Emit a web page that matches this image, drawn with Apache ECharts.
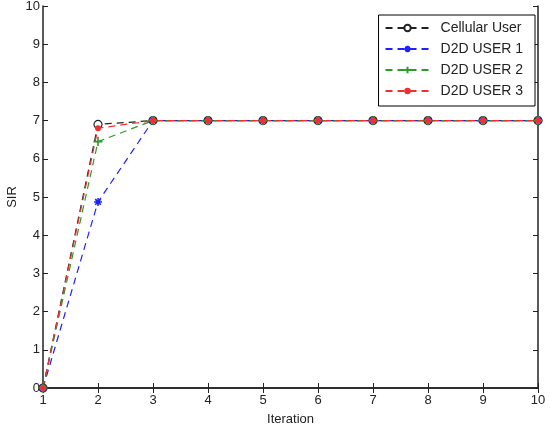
<!DOCTYPE html>
<html>
<head>
<meta charset="utf-8">
<script src="https://cdn.jsdelivr.net/npm/echarts@6/dist/echarts.min.js"></script>
<style>
html,body{margin:0;padding:0;background:#fff;}
#chart{width:550px;height:429px;}
</style>
</head>
<body>
<div id="chart"></div>
<script>
var iterations = [1, 2, 3, 4, 5, 6, 7, 8, 9, 10];
var cellular = [0, 6.9, 7, 7, 7, 7, 7, 7, 7, 7];
var user1 = [0, 4.87, 7, 7, 7, 7, 7, 7, 7, 7];
var user2 = [0, 6.45, 7, 7, 7, 7, 7, 7, 7, 7];
var user3 = [0, 6.8, 7, 7, 7, 7, 7, 7, 7, 7];
var names = ['Cellular User', 'D2D USER 1', 'D2D USER 2', 'D2D USER 3'];

function pairs(vals) {
    return iterations.map(function (x, i) { return [x, vals[i]]; });
}

var star = 'path://M5,0L5,10M0,5L10,5M1.5,1.5L8.5,8.5M8.5,1.5L1.5,8.5';
var plus = 'path://M5,0L5,10M0,5L10,5';
var font = 'Liberation Sans, Arial, sans-serif';

var chart = echarts.init(document.getElementById('chart'));
chart.setOption({
    animation: false,
    grid: {left: 43, right: 12, top: 6, bottom: 41, containLabel: false, outerBoundsMode: 'none'},
    legend: {
        orient: 'vertical',
        right: 15,
        top: 15,
        itemWidth: 44,
        itemHeight: 8,
        itemGap: 7,
        padding: [6, 12, 8, 6],
        borderColor: '#000',
        borderWidth: 1,
        backgroundColor: '#fff',
        textStyle: {fontFamily: font, fontSize: 14, color: '#222', padding: [0, 0, 0, 6]},
        data: names
    },
    xAxis: [{
        type: 'value', min: 1, max: 10, interval: 1,
        name: 'Iteration', nameLocation: 'middle', nameGap: 25,
        nameTextStyle: {fontFamily: font, fontSize: 13, color: '#222'},
        axisLine: {lineStyle: {color: '#222', width: 1.5}},
        axisTick: {inside: true, length: 5, lineStyle: {color: '#222'}},
        axisLabel: {fontFamily: font, fontSize: 13, color: '#222', margin: 6},
        splitLine: {show: false}
    }, {
        type: 'value', min: 1, max: 10, interval: 1, position: 'top',
        axisLine: {lineStyle: {color: '#222', width: 1.5}},
        axisTick: {inside: true, length: 5, lineStyle: {color: '#222'}},
        axisLabel: {show: false},
        splitLine: {show: false}
    }],
    yAxis: [{
        type: 'value', min: 0, max: 10, interval: 1,
        name: 'SIR', nameLocation: 'middle', nameGap: 24, nameRotate: 90,
        nameMoveOverlap: false,
        nameTextStyle: {fontFamily: font, fontSize: 13, color: '#222'},
        axisLine: {show: true, lineStyle: {color: '#222', width: 1.5}},
        axisTick: {show: true, inside: true, length: 5, lineStyle: {color: '#222'}},
        axisLabel: {fontFamily: font, fontSize: 13, color: '#222', margin: 3},
        splitLine: {show: false}
    }, {
        type: 'value', min: 0, max: 10, interval: 1, position: 'right',
        axisLine: {show: true, lineStyle: {color: '#222', width: 1.5}},
        axisTick: {show: true, inside: true, length: 5, lineStyle: {color: '#222'}},
        axisLabel: {show: false},
        splitLine: {show: false}
    }],
    series: [{
        name: names[0], type: 'line', data: pairs(cellular),
        symbol: 'circle', symbolSize: 8,
        lineStyle: {color: '#222', width: 1.2, type: [7, 5]},
        itemStyle: {color: '#fff', borderColor: '#222', borderWidth: 1.2}
    }, {
        name: names[1], type: 'line', data: pairs(user1),
        symbol: star, symbolSize: 8,
        lineStyle: {color: '#2020ff', width: 1.2, type: [7, 5]},
        itemStyle: {color: '#2020ff', borderColor: '#2020ff', borderWidth: 1.6}
    }, {
        name: names[2], type: 'line', data: pairs(user2),
        symbol: plus, symbolSize: 9,
        lineStyle: {color: '#2a9a2a', width: 1.2, type: [7, 5]},
        itemStyle: {color: '#2a9a2a', borderColor: '#2a9a2a', borderWidth: 1.6}
    }, {
        name: names[3], type: 'line', data: pairs(user3),
        symbol: 'circle', symbolSize: 6,
        lineStyle: {color: '#f03030', width: 1.2, type: [7, 5]},
        itemStyle: {color: '#f03030', borderColor: '#f03030', borderWidth: 0}
    }]
});
</script>
</body>
</html>
